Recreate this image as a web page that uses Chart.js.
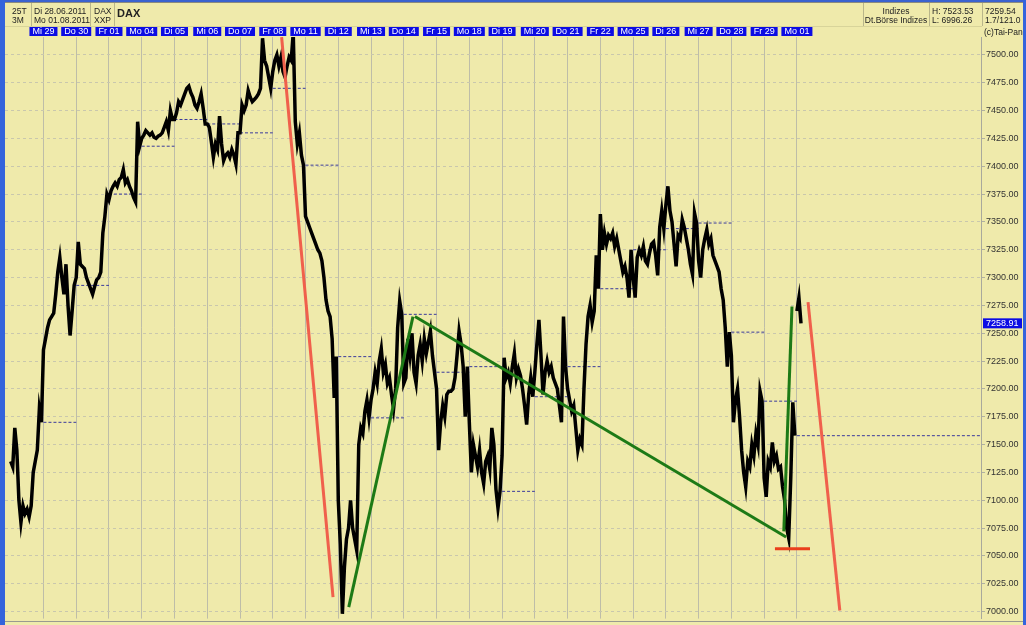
<!DOCTYPE html>
<html>
<head>
<meta charset="utf-8">
<script src="https://cdn.jsdelivr.net/npm/chart.js@4/dist/chart.umd.min.js"></script>
<style>
  html,body{margin:0;padding:0;}
  body{width:1026px;height:625px;overflow:hidden;position:relative;background:#efeaab;font-family:'Liberation Sans',Arial,sans-serif;color:#222;}
  #wrap{position:absolute;left:0;top:0;width:1026px;height:625px;}
  .t{position:absolute;font-size:8.5px;line-height:9px;white-space:nowrap;}
  .c{text-align:center;}
  .vl{position:absolute;width:1px;background:#b9b68a;}
  .hl{position:absolute;height:1px;background:#b9b68a;}
</style>
</head>
<body>
<div id="wrap"><canvas id="c"></canvas></div>

<!-- frame -->
<div style="position:absolute;left:0;top:0;width:1026px;height:2px;background:#3a62d0"></div>
<div style="position:absolute;left:0;top:2px;width:1026px;height:1px;background:#8a8a80"></div>
<div style="position:absolute;left:0;top:0;width:5px;height:625px;background:#3464dc"></div>
<div style="position:absolute;left:1023px;top:0;width:3px;height:625px;background:#3464dc"></div>
<div style="position:absolute;left:5px;top:621px;width:1018px;height:1px;background:#9a9a90"></div>

<!-- header cells -->
<div class="vl" style="left:31px;top:3px;height:23px"></div>
<div class="vl" style="left:90px;top:3px;height:23px"></div>
<div class="vl" style="left:114px;top:3px;height:23px"></div>
<div class="vl" style="left:863px;top:3px;height:23px"></div>
<div class="vl" style="left:929px;top:3px;height:23px"></div>
<div class="vl" style="left:982px;top:3px;height:23px"></div>
<div class="hl" style="left:5px;top:26px;width:977px;background:#d8d49a"></div>

<div class="t" style="left:12px;top:7px">25T</div>
<div class="t" style="left:12px;top:16px">3M</div>
<div class="t" style="left:34px;top:7px">Di 28.06.2011</div>
<div class="t" style="left:34px;top:16px">Mo 01.08.2011</div>
<div class="t" style="left:94px;top:7px">DAX</div>
<div class="t" style="left:94px;top:16px">XXP</div>
<div class="t" style="left:117px;top:8px;font-size:11px;line-height:11px;font-weight:bold">DAX</div>

<div class="t c" style="left:863px;width:66px;top:7px">Indizes</div>
<div class="t c" style="left:863px;width:66px;top:16px">Dt.Börse Indizes</div>
<div class="t" style="left:932px;top:7px">H: 7523.53</div>
<div class="t" style="left:932px;top:16px">L: 6996.26</div>
<div class="t" style="left:985px;top:7px">7259.54</div>
<div class="t" style="left:985px;top:16px;width:38px;overflow:hidden">1.7/121.0</div>
<div class="t" style="left:984px;top:28px;width:39px;overflow:hidden">(c)Tai-Pan</div>

<script>
// ---------- data ----------
const dayNames = ['Di 28','Mi 29','Do 30','Fr 01','Mo 04','Di 05','Mi 06','Do 07','Fr 08','Mo 11','Di 12','Mi 13','Do 14','Fr 15','Mo 18','Di 19','Mi 20','Do 21','Fr 22','Mo 25','Di 26','Mi 27','Do 28','Fr 29','Mo 01'];
const SLOTS = 16; // intraday samples per session

const d0628 = [7135,7130,7165,7145,7100,7080,7095,7088,7092,7085,7095,7125,7135,7145,7182,7170];
const d0629 = [7235,7245,7255,7262,7265,7268,7285,7305,7318,7300,7285,7312,7275,7248,7270,7293];
const d0630 = [7300,7332,7312,7310,7308,7300,7295,7290,7285,7292,7298,7300,7305,7340,7355,7375];
const d0701 = [7370,7378,7382,7385,7382,7388,7390,7397,7385,7388,7382,7378,7372,7368,7440,7418];
const d0704 = [7425,7428,7432,7430,7428,7430,7426,7425,7427,7428,7430,7435,7440,7432,7450,7442];
const d0705 = [7442,7448,7458,7455,7460,7465,7470,7472,7466,7462,7455,7452,7458,7465,7452,7438];
const d0706 = [7438,7435,7422,7408,7420,7415,7445,7420,7405,7410,7412,7408,7415,7410,7402,7430];
const d0707 = [7430,7455,7450,7455,7468,7462,7458,7460,7462,7465,7470,7515,7495,7490,7480,7470];
const d0708 = [7485,7495,7500,7490,7498,7485,7480,7490,7498,7495,7520,7440,7420,7430,7410,7401];
const d0711 = [7355,7350,7345,7340,7335,7330,7325,7322,7315,7300,7280,7270,7265,7245,7192,7229];
const d0712 = [7100,7060,6998,7040,7065,7075,7100,7075,7065,7055,7150,7165,7160,7180,7190,7174];
const d0713 = [7190,7200,7215,7205,7225,7236,7215,7222,7205,7210,7195,7182,7200,7255,7279,7267];
const d0714 = [7205,7210,7245,7230,7250,7215,7205,7230,7240,7225,7245,7232,7242,7252,7230,7215];
const d0715 = [7200,7145,7170,7185,7175,7195,7198,7198,7200,7210,7230,7252,7240,7220,7175,7220];
const d0718 = [7170,7125,7150,7140,7130,7145,7125,7115,7135,7140,7128,7165,7150,7110,7093,7108];
const d0719 = [7140,7228,7210,7215,7205,7220,7232,7210,7218,7212,7200,7185,7168,7195,7210,7193];
const d0720 = [7215,7240,7262,7230,7195,7215,7225,7215,7220,7210,7205,7200,7185,7170,7265,7220];
const d0721 = [7200,7190,7180,7185,7165,7145,7155,7150,7200,7240,7265,7275,7260,7270,7320,7290];
const d0722 = [7357,7325,7340,7330,7338,7335,7340,7328,7335,7325,7315,7305,7310,7300,7282,7325];
const d0725 = [7300,7282,7318,7325,7320,7328,7315,7312,7322,7330,7332,7320,7302,7345,7360,7344];
const d0726 = [7365,7382,7360,7350,7330,7310,7338,7335,7352,7345,7335,7325,7312,7303,7358,7349];
const d0727 = [7315,7300,7325,7335,7343,7330,7335,7320,7315,7310,7305,7290,7280,7255,7220,7251];
const d0728 = [7230,7170,7190,7200,7175,7145,7125,7112,7135,7130,7150,7140,7160,7150,7198,7189];
const d0729 = [7120,7103,7135,7130,7152,7135,7140,7128,7130,7112,7100,7075,7066,7120,7188,7158];
const d0801 = [7270,7282,7258.91];

const sessions = [d0628,d0629,d0630,d0701,d0704,d0705,d0706,d0707,d0708,d0711,d0712,d0713,d0714,d0715,d0718,d0719,d0720,d0721,d0722,d0725,d0726,d0727,d0728,d0729,d0801];
const gapBefore = [24]; // overnight gap not joined by the price line

const yTickMin = 7000, yTickMax = 7500, yTickStep = 25;
const xView = [-0.174, 29.62];
const yView = [6993.7, 7516.1];

// drawn trend lines (x in sessions, y in index points)
const redDown1 = [{x:8.27,y:7516},{x:9.84,y:7013}];
const greenUp1 = [{x:10.32,y:7004},{x:12.28,y:7265}];
const greenDown = [{x:12.34,y:7265},{x:23.67,y:7067}];
const greenUp2 = [{x:23.60,y:7072},{x:23.85,y:7274}];
const redFloor = [{x:23.33,y:7056.5},{x:24.40,y:7056.5}];
const redDown2 = [{x:24.34,y:7278},{x:25.31,y:7001}];

// ---------- build ----------
const pricePts = [];
sessions.forEach((s, i) => {
  if (gapBefore.includes(i)) pricePts.push({x: i - 0.01, y: null});
  s.forEach((v, j) => pricePts.push({x: i + j / SLOTS, y: v}));
});
const closes = sessions.map(s => s[s.length - 1]);
const prevClosePts = [];
for (let i = 1; i < sessions.length; i++) {
  const end = (i === sessions.length - 1) ? xView[1] : i + 1;
  prevClosePts.push({x: i, y: closes[i-1]}, {x: end, y: closes[i-1]}, {x: end + 0.001, y: null});
}
const lastPrice = d0801[d0801.length - 1];

const FONT = "'Liberation Sans', Arial, sans-serif";
const trend = (data, color) => ({data, borderColor: color, borderWidth: 3, pointRadius: 0, order: 0, borderCapStyle: 'butt'});

const lastBox = {
  id: 'lastBox',
  afterDraw(chart) {
    const {ctx} = chart, ys = chart.scales.y;
    const y = ys.getPixelForValue(lastPrice);
    ctx.save();
    ctx.fillStyle = '#0c0ce4';
    ctx.fillRect(ys.left + 2, y - 5, 39, 10);
    ctx.fillStyle = '#ffffff';
    ctx.font = '9px ' + FONT;
    ctx.textBaseline = 'middle';
    ctx.fillText(lastPrice.toFixed(2), ys.left + 5, y + 0.5);
    ctx.restore();
  }
};

new Chart(document.getElementById('c'), {
  type: 'line',
  data: {
    datasets: [
      trend(redDown1, '#f0604c'),
      trend(greenUp1, '#1d7a16'),
      trend(greenDown, '#1d7a16'),
      trend(greenUp2, '#1d7a16'),
      trend(redFloor, '#ea3f1c'),
      trend(redDown2, '#f0604c'),
      {data: pricePts, borderColor: '#000000', borderWidth: 3.5, pointRadius: 0, order: 1, spanGaps: false, borderJoinStyle: 'miter'},
      {data: prevClosePts, borderColor: '#3a3a9c', borderWidth: 1, borderDash: [3, 2], pointRadius: 0, order: 2, spanGaps: false}
    ]
  },
  options: {
    responsive: true,
    maintainAspectRatio: false,
    animation: false,
    layout: {padding: {left: 5, top: 26, right: 0, bottom: 5}},
    plugins: {legend: {display: false}, tooltip: {enabled: false}},
    elements: {line: {tension: 0}, point: {radius: 0}},
    scales: {
      x: {
        type: 'linear', position: 'top', min: xView[0], max: xView[1],
        afterBuildTicks: s => { s.ticks = dayNames.slice(1).map((_, i) => ({value: i + 1})); },
        afterFit: s => { s.height = 11; },
        grid: {color: '#bebda8', lineWidth: 1, drawTicks: false},
        border: {display: false},
        ticks: {
          autoSkip: false, maxRotation: 0, minRotation: 0, padding: 1,
          color: '#ffffff', font: {family: FONT, size: 9, lineHeight: 1},
          showLabelBackdrop: true, backdropColor: '#0c0ce4',
          backdropPadding: {top: 1, bottom: 0, left: 3, right: 3},
          callback: v => dayNames[v]
        }
      },
      y: {
        type: 'linear', position: 'right', min: yView[0], max: yView[1],
        afterBuildTicks: s => {
          const t = [];
          for (let v = yTickMin; v <= yTickMax; v += yTickStep) t.push({value: v});
          s.ticks = t;
        },
        afterFit: s => { s.width = 45; },
        grid: {color: '#c9c7ad', lineWidth: 1, tickLength: 4, tickColor: '#b0b0a0'},
        border: {display: true, color: '#a9a99c', width: 1, dash: [3, 3]},
        ticks: {
          padding: 1, color: '#333333', font: {family: FONT, size: 9},
          callback: v => v.toFixed(2)
        }
      }
    }
  },
  plugins: [lastBox]
});
</script>
</body>
</html>
